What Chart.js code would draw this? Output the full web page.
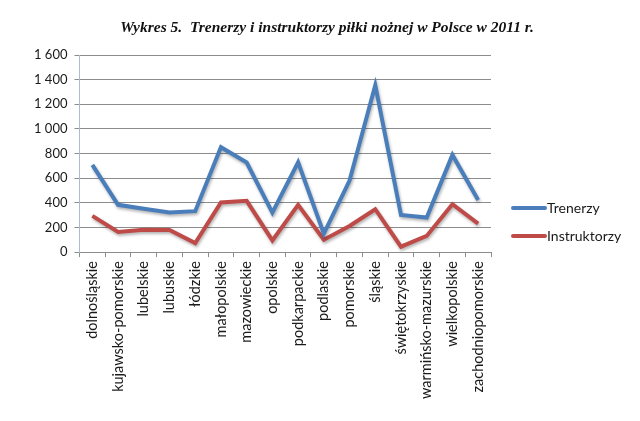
<!DOCTYPE html>
<html>
<head>
<meta charset="utf-8">
<script src="https://cdn.jsdelivr.net/npm/chart.js@4"></script>
<style>
  html, body { margin: 0; padding: 0; background: #fff; }
  #wrap { width: 640px; height: 421px; }
</style>
</head>
<body>
<div id="wrap"><canvas id="myChart" width="640" height="421"></canvas></div>
<script>
const regions = [
    'dolnośląskie', 'kujawsko-pomorskie', 'lubelskie', 'lubuskie', 'łódzkie',
    'małopolskie', 'mazowieckie', 'opolskie', 'podkarpackie', 'podlaskie',
    'pomorskie', 'śląskie', 'świętokrzyskie', 'warmińsko-mazurskie',
    'wielkopolskie', 'zachodniopomorskie'
];
const trenerzy = [708, 384, 352, 321, 332, 851, 727, 321, 729, 150, 580, 1355, 302, 280, 789, 422];
const instruktorzy = [294, 163, 182, 180, 73, 403, 416, 95, 384, 100, 212, 348, 44, 131, 389, 231];
const yTicks = [0, 200, 400, 600, 800, 1000, 1200, 1400, 1600];
const chartTitle = 'Wykres 5.  Trenerzy i instruktorzy piłki nożnej w Polsce w 2011 r.';

const blue = '#4a7ebb';
const red = '#be4b48';

// soft shadow under the lines, like the office chart
const lineShadow = {
    id: 'lineShadow',
    beforeDatasetsDraw(chart) {
        const ctx = chart.ctx;
        ctx.save();
        ctx.shadowColor = 'rgba(0,0,0,0.3)';
        ctx.shadowBlur = 3;
        ctx.shadowOffsetX = 1;
        ctx.shadowOffsetY = 2;
    },
    afterDatasetsDraw(chart) {
        chart.ctx.restore();
    }
};

// title sits centred over the whole picture, not just the plot
const topTitle = {
    id: 'topTitle',
    afterDraw(chart) {
        const ctx = chart.ctx;
        ctx.save();
        ctx.fillStyle = '#111';
        ctx.font = 'italic bold 15.5px "Liberation Serif"';
        ctx.textAlign = 'center';
        ctx.textBaseline = 'middle';
        ctx.fillText(chartTitle, 327, 28);
        ctx.restore();
    }
};

// legend on the right, drawn from the datasets
const sideLegend = {
    id: 'sideLegend',
    afterDraw(chart) {
        const ctx = chart.ctx;
        const x0 = chart.chartArea.right + 22;
        const ys = [208, 236];
        ctx.save();
        chart.data.datasets.forEach((ds, i) => {
            ctx.strokeStyle = ds.borderColor;
            ctx.lineWidth = 4;
            ctx.lineCap = 'round';
            ctx.beginPath();
            ctx.moveTo(x0, ys[i]);
            ctx.lineTo(x0 + 32, ys[i]);
            ctx.stroke();
            ctx.fillStyle = '#1a1a1a';
            ctx.font = '14px Lato';
            ctx.textBaseline = 'middle';
            ctx.fillText(ds.label, x0 + 34, ys[i]);
        });
        ctx.restore();
    }
};

const data = {
    labels: regions,
    datasets: [{
        label: 'Trenerzy',
        data: trenerzy,
        borderColor: blue,
        backgroundColor: blue,
        borderWidth: 4,
        pointRadius: 0,
        tension: 0
    }, {
        label: 'Instruktorzy',
        data: instruktorzy,
        borderColor: red,
        backgroundColor: red,
        borderWidth: 4,
        pointRadius: 0,
        tension: 0
    }]
};

const config = {
    type: 'line',
    data: data,
    plugins: [lineShadow, topTitle, sideLegend],
    options: {
        responsive: false,
        animation: false,
        layout: {
            padding: { top: 55, right: 149, bottom: 18, left: 27 }
        },
        plugins: {
            legend: { display: false },
            tooltip: { enabled: false },
            title: { display: false }
        },
        scales: {
            x: {
                offset: true,
                grid: {
                    offset: true,
                    drawOnChartArea: false,
                    color: '#8c8c8c',
                    tickLength: 5
                },
                border: { color: '#8c8c8c' },
                ticks: {
                    minRotation: 90,
                    maxRotation: 90,
                    autoSkip: false,
                    padding: 4,
                    color: '#1a1a1a',
                    font: { family: 'Lato', size: 14.5 }
                }
            },
            y: {
                min: 0,
                max: 1600,
                afterBuildTicks(axis) {
                    axis.ticks = yTicks.map(v => ({ value: v }));
                },
                grid: {
                    color: '#8c8c8c',
                    tickLength: 5
                },
                border: { color: '#a9bcd3' },
                ticks: {
                    padding: 7,
                    color: '#1a1a1a',
                    font: { family: 'Lato', size: 13 },
                    callback: v => String(v).replace(/\B(?=(\d{3})+(?!\d))/g, ' ')
                }
            }
        }
    }
};

const myChart = new Chart(document.getElementById('myChart'), config);
</script>
</body>
</html>
